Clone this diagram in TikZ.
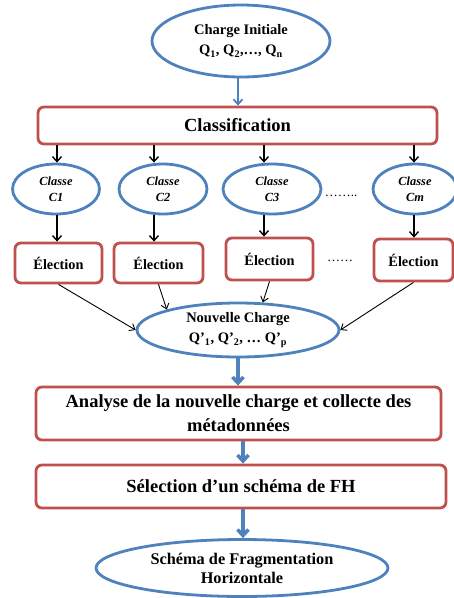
\documentclass[tikz,border=0pt]{standalone}
\usepackage{fontspec}
\setmainfont{Liberation Serif}
\usetikzlibrary{shapes.geometric,arrows.meta,calc}
\definecolor{bblue}{HTML}{4F81BD}
\definecolor{rred}{HTML}{C0504D}
\begin{document}
\begin{tikzpicture}[x=1pt,y=-1pt,
  bell/.style={ellipse,draw=bblue,line width=2.8pt,inner sep=0pt,align=center},
  rbox/.style={draw=rred,line width=2.8pt,rounded corners=6pt,inner sep=0pt,align=center},
  barrow/.style={-{Straight Barb[length=5pt,width=9pt]},black,line width=1.4pt},
  tarrow/.style={-{Straight Barb[length=5pt,width=8pt]},black,line width=0.9pt},
  blarrow/.style={-{Straight Barb[length=5pt,width=9pt]},bblue,line width=1.8pt},
  bigarrow/.style={-{Straight Barb[length=6pt,width=11pt]},bblue,line width=3.5pt},
  dots/.style={inner sep=0pt,font=\fontsize{13}{13}\selectfont},
  fcharge/.style={font=\bfseries\fontsize{14.5}{20}\selectfont},
  fclasse/.style={font=\bfseries\itshape\fontsize{12.4}{16}\selectfont},
  felec/.style={font=\bfseries\fontsize{14.3}{16}\selectfont},
  fbig/.style={font=\bfseries\fontsize{18.5}{24}\selectfont},
  ffin/.style={font=\bfseries\fontsize{16.3}{19}\selectfont}
]
\useasboundingbox (0,0) rectangle (454,598);
\clip (0,0) rectangle (454,598);

% top ellipse
\node[bell,fcharge,minimum width=178pt,minimum height=72pt] (ci) at (241,41)
  {Charge Initiale\\Q\textsubscript{1}, Q\textsubscript{2},…, Q\textsubscript{n}};

% classification
\node[rbox,fbig,minimum width=399pt,minimum height=37pt] (cls) at (237.5,125.5) {Classification};

% class ellipses
\node[bell,fclasse,minimum width=87pt,minimum height=50pt] (c1) at (56,189) {Classe\\C1};
\node[bell,fclasse,minimum width=88pt,minimum height=50pt] (c2) at (163,189) {Classe\\C2};
\node[bell,fclasse,minimum width=98pt,minimum height=50pt] (c3) at (272,189) {Classe\\C3};
\node[bell,fclasse,minimum width=84pt,minimum height=50pt] (cm) at (415,189) {Classe\\Cm};
\node[dots] (d1) at (341,196) {……..};

% election boxes
\node[rbox,felec,minimum width=87pt,minimum height=40pt] (e1) at (58.5,263) {Élection};
\node[rbox,felec,minimum width=89pt,minimum height=40pt] (e2) at (158.5,263) {Élection};
\node[rbox,felec,minimum width=87pt,minimum height=42pt] (e3) at (269.5,259) {Élection};
\node[rbox,felec,minimum width=79pt,minimum height=42pt] (em) at (413.5,260) {Élection};
\node[dots] (d2) at (340,261) {……};

% new load
\node[bell,fcharge,minimum width=202pt,minimum height=54pt] (nc) at (238,330)
  {Nouvelle Charge\\Q’\textsubscript{1}, Q’\textsubscript{2}, … Q’\textsubscript{p}};

% analysis
\node[rbox,fbig,minimum width=405pt,minimum height=53pt] (ana) at (238.5,413.5)
  {Analyse de la nouvelle charge et collecte des\\métadonnées};
\node[rbox,fbig,minimum width=410pt,minimum height=43pt] (sel) at (241,486.5)
  {Sélection d’un schéma de FH};
\node[bell,ffin,minimum width=292pt,minimum height=57pt] (fin) at (242,568)
  {Schéma de Fragmentation\\Horizontale};

% guide coordinates for vertical connectors
\coordinate (k0) at (238,0);
\coordinate (k1) at (57,0);
\coordinate (k2) at (154,0);
\coordinate (k3) at (264,0);
\coordinate (k4) at (414,0);
\coordinate (k5) at (243,0);

% connectors
\draw[blarrow] (ci.south -| k0) -- (cls.north -| k0);
\foreach \i in {1,2,3}{
  \draw[barrow] (cls.south -| k\i) -- (c\i.north -| k\i);
  \draw[barrow] (c\i.south -| k\i) -- (e\i.north -| k\i);
}
\draw[barrow] (cls.south -| k4) -- (cm.north -| k4);
\draw[barrow] (cm.south -| k4) -- (em.north -| k4);

\draw[tarrow] (e1.south) -- (nc.west);
\draw[tarrow] (e2.south) -- (nc.164);
\draw[tarrow] (e3.south) -- (nc.48);
\draw[tarrow] (em.south) -- (nc.east);

\draw[bigarrow] (nc.south -| k0) -- (ana.north -| k0);
\draw[bigarrow] (ana.south -| k5) -- (sel.north -| k5);
\draw[bigarrow] (sel.south -| k5) -- (fin.north -| k5);
\end{tikzpicture}
\end{document}
